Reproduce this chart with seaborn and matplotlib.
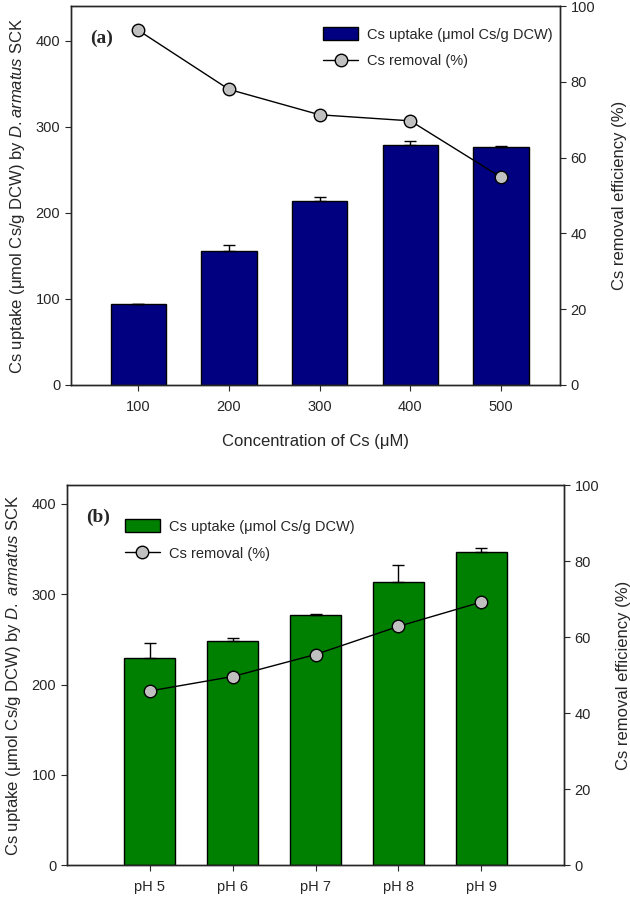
import numpy as np
import pandas as pd
import matplotlib
matplotlib.use('Agg')
import matplotlib.pyplot as plt
import seaborn as sns
from matplotlib.patches import Patch
from matplotlib.lines import Line2D

# panel (a): Cs concentration
conc_labels = ['100', '200', '300', '400', '500']
conc_uptake = [94, 156, 214, 279, 277]
conc_uptake_err = [0, 7, 5, 5, 1]
conc_removal = [93.6, 78, 71.3, 69.7, 54.8]

# panel (b): pH
ph_labels = ['pH 5', 'pH 6', 'pH 7', 'pH 8', 'pH 9']
ph_uptake = [229.7, 248, 277, 314, 347]
ph_uptake_err = [16, 4, 1.5, 18, 4]
ph_removal = [45.8, 49.6, 55.4, 62.8, 69.2]

sns.set_style('ticks')
plt.rcParams['font.family'] = ['Liberation Sans', 'DejaVu Sans']
plt.rcParams['mathtext.fontset'] = 'custom'
plt.rcParams['mathtext.rm'] = 'Liberation Sans'
plt.rcParams['mathtext.it'] = 'Liberation Sans:italic'
plt.rcParams['font.size'] = 12
plt.rcParams['xtick.labelsize'] = 10.5
plt.rcParams['ytick.labelsize'] = 10.5
plt.rcParams['axes.linewidth'] = 1.0
plt.rcParams['xtick.major.size'] = 4
plt.rcParams['ytick.major.size'] = 4


def panel(fig, rect, labels, uptake, err, removal, color, ylim, xlim, tag, xlabel,
          ylabel, leg_anchor):
    ax = fig.add_axes(rect)
    df = pd.DataFrame({'x': labels, 'uptake': uptake})
    sns.barplot(data=df, x='x', y='uptake', color=color, width=0.61,
                edgecolor='black', linewidth=1, saturation=1, ax=ax, errorbar=None)
    xs = np.arange(len(labels))
    ax.errorbar(xs, uptake, yerr=[np.zeros(len(err)), err], fmt='none',
                ecolor='black', elinewidth=1, capsize=4, capthick=1, zorder=1)
    ax.set_ylim(*ylim)
    ax.set_xlim(*xlim)
    ax.set_yticks([0, 100, 200, 300, 400])
    ax.set_xlabel(xlabel, labelpad=14)
    ax.set_ylabel(ylabel, labelpad=6)
    ax.tick_params(axis='x', pad=7)
    ax.text(0.04, 0.915, tag, transform=ax.transAxes, fontsize=14, fontweight='bold',
            family='Liberation Serif', va='center')

    ax2 = ax.twinx()
    sns.lineplot(x=xs, y=removal, ax=ax2, color='black', linewidth=1, marker='o',
                 markersize=9, markerfacecolor='#c0c0c0', markeredgecolor='black',
                 markeredgewidth=1)
    ax2.set_ylim(0, 100)
    ax2.set_yticks([0, 20, 40, 60, 80, 100])
    ax2.set_ylabel('Cs removal efficiency (%)', labelpad=12)
    for a in (ax, ax2):
        a.spines['top'].set_visible(True)
        a.spines['right'].set_visible(True)
        a.tick_params(axis='x', top=False)

    handles = [Patch(facecolor=color, edgecolor='black', linewidth=1),
               Line2D([], [], color='black', linewidth=1, marker='o', markersize=9,
                      markerfacecolor='#c0c0c0', markeredgecolor='black')]
    ax2.legend(handles, ['Cs uptake (μmol Cs/g DCW)', 'Cs removal (%)'],
               loc='upper left', bbox_to_anchor=leg_anchor, frameon=False, fontsize=10.5,
               handlelength=2.4, handleheight=1.0, handletextpad=0.6,
               borderaxespad=0, labelspacing=0.85)
    return ax, ax2


fig = plt.figure(figsize=(6.3, 8.98), dpi=100)

ax_a, _ = panel(fig, [0.1122, 0.5713, 0.7767, 0.422], conc_labels, conc_uptake,
                conc_uptake_err, conc_removal, '#000080', (0, 440.5), (-0.745, 4.65),
                '(a)', 'Concentration of Cs (μM)',
                r'Cs uptake (μmol Cs/g DCW) by $\it{D.armatus}$ SCK', (0.504, 0.96))

ax_b, _ = panel(fig, [0.1059, 0.0367, 0.7898, 0.4232], ph_labels, ph_uptake,
                ph_uptake_err, ph_removal, '#008000', (0, 421), (-1.0, 5.0),
                '(b)', '', r'Cs uptake (μmol Cs/g DCW) by $\it{D.\ armatus}$ SCK',
                (0.105, 0.925))

fig.savefig('out.png', dpi=100)
